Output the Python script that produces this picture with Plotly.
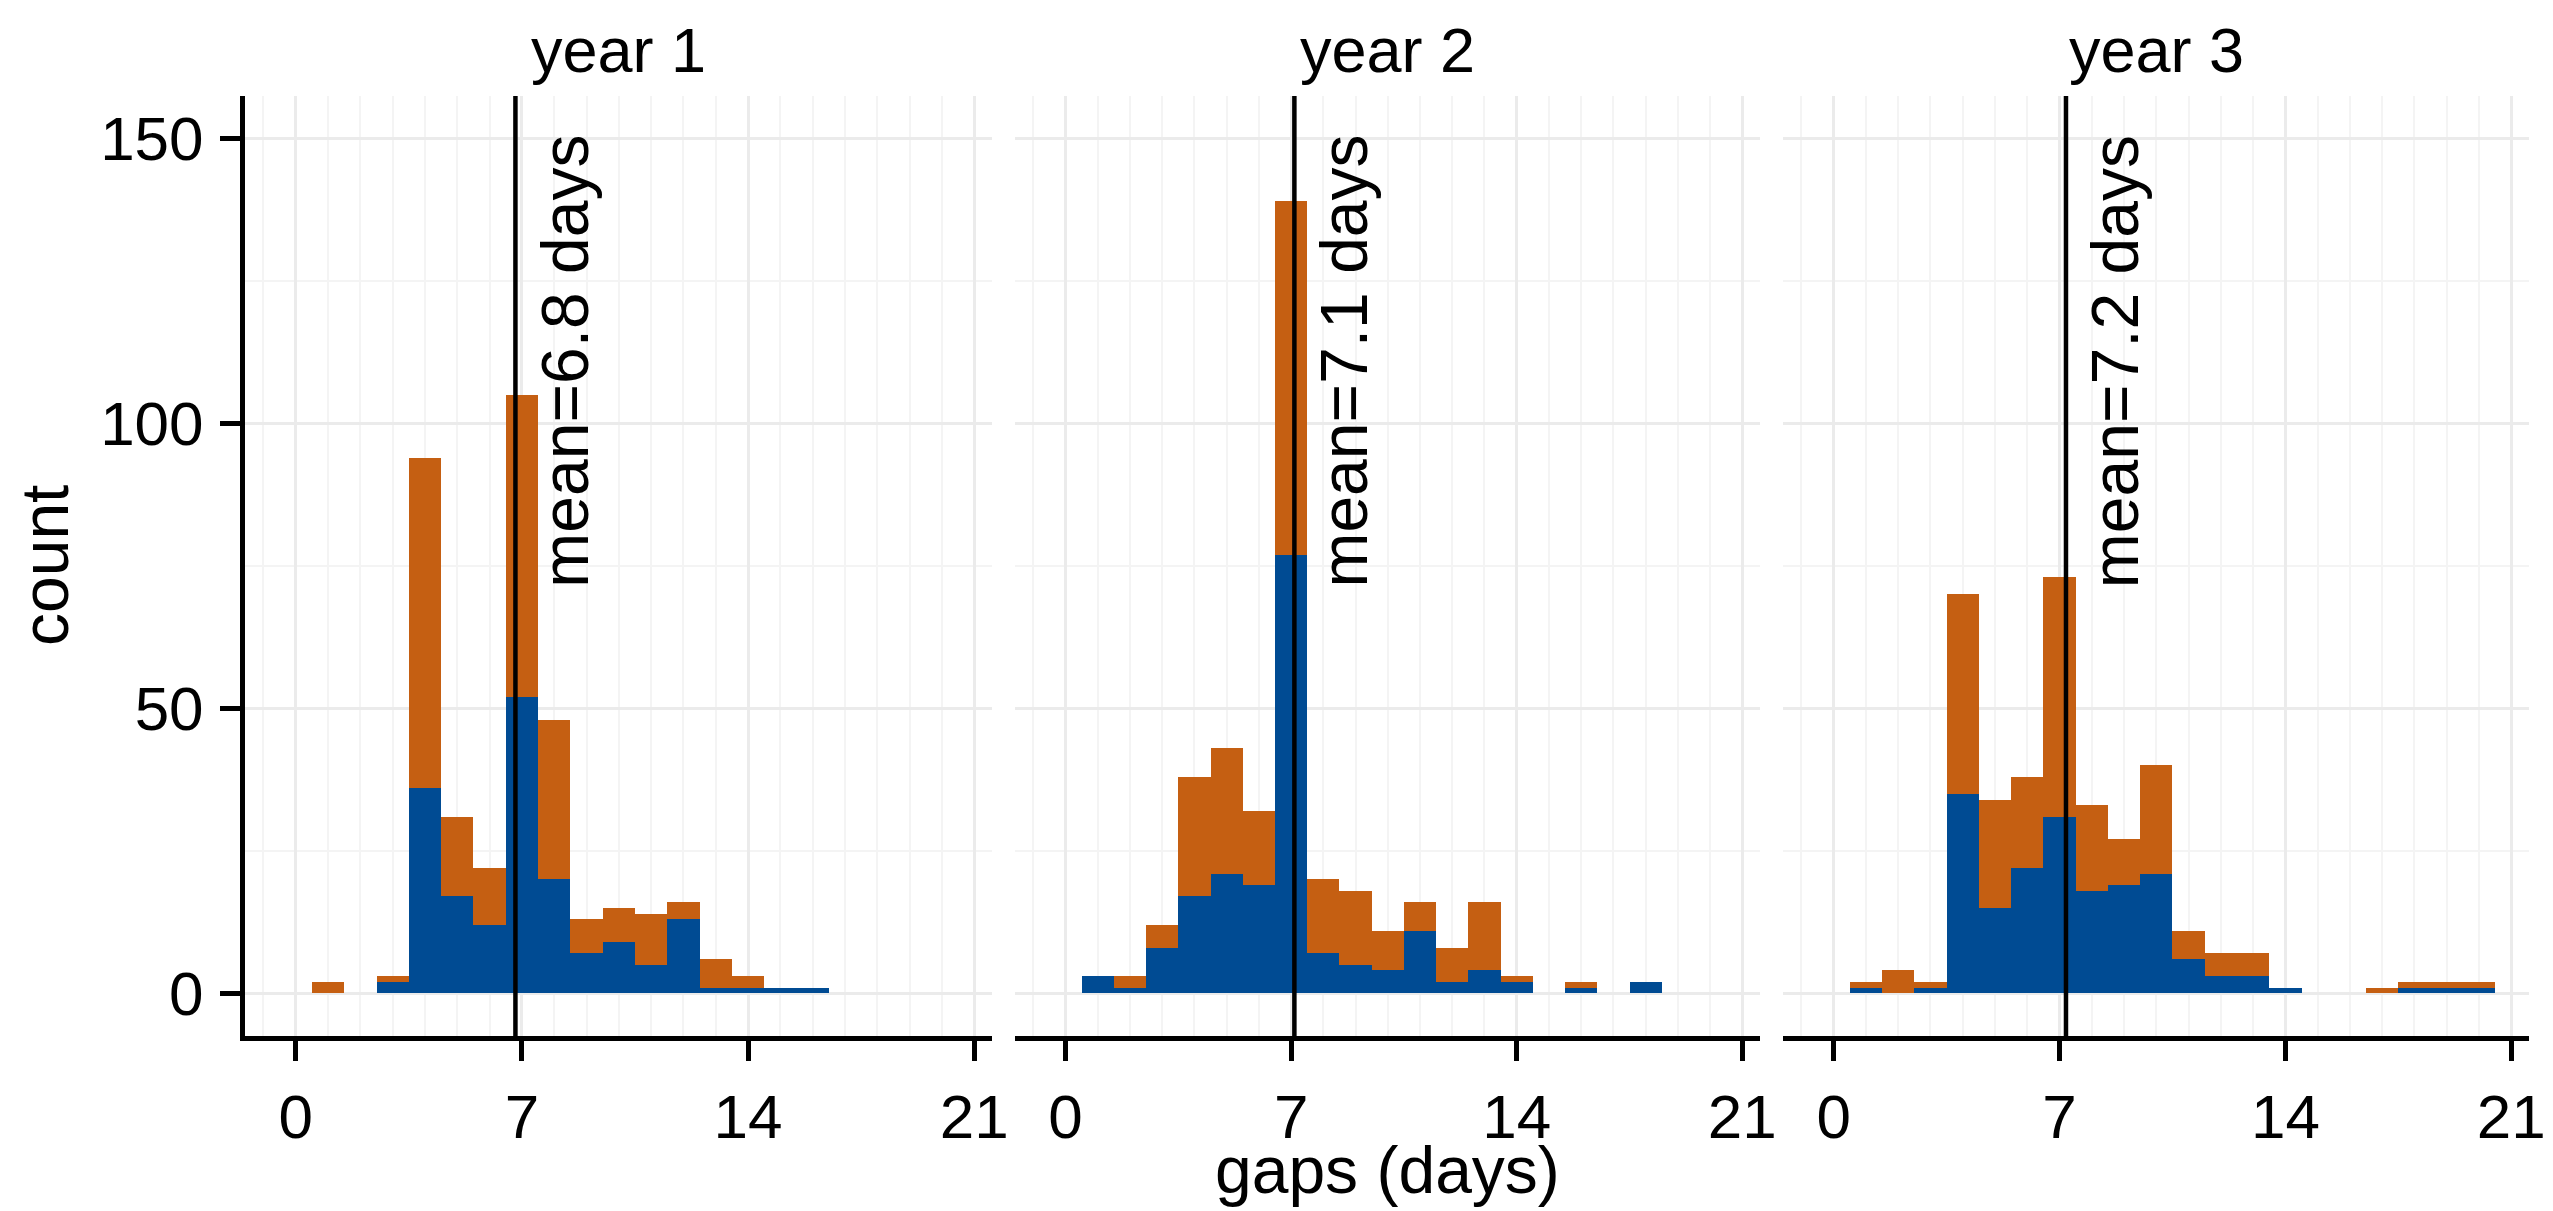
import plotly.graph_objects as go

days = list(range(1, 21))
years = ["year 1", "year 2", "year 3"]
means = [6.8, 7.1, 7.2]
mean_labels = ["mean=6.8 days", "mean=7.1 days", "mean=7.2 days"]

blue_counts = [
    [0, 0, 2, 36, 17, 12, 52, 20, 7, 9, 5, 13, 1, 1, 1, 1, 0, 0, 0, 0],
    [3, 1, 8, 17, 21, 19, 77, 7, 5, 4, 11, 2, 4, 2, 0, 1, 0, 2, 0, 0],
    [1, 0, 1, 35, 15, 22, 31, 18, 19, 21, 6, 3, 3, 1, 0, 0, 0, 1, 1, 1],
]
orange_counts = [
    [2, 0, 1, 58, 14, 10, 53, 28, 6, 6, 9, 3, 5, 2, 0, 0, 0, 0, 0, 0],
    [0, 2, 4, 21, 22, 13, 62, 13, 13, 7, 5, 6, 12, 1, 0, 1, 0, 0, 0, 0],
    [1, 4, 1, 35, 19, 16, 42, 15, 8, 19, 5, 4, 4, 0, 0, 0, 1, 1, 1, 1],
]

x_ticks = [0, 7, 14, 21]
y_ticks = [0, 50, 100, 150]

BLUE = "#004B93"
ORANGE = "#C55F12"
FONT = "Liberation Sans"

W, H = 2553, 1211
L, R, T, B = 237, 32, 88, 183
plot_w = W - L - R
panels_px = [(237, 984), (1007, 1752), (1775, 2521)]
domains = [[(a - L) / plot_w, (b - L) / plot_w] for a, b in panels_px]

fig = go.Figure()
for i in range(3):
    xa = "x" if i == 0 else f"x{i+1}"
    ya = "y" if i == 0 else f"y{i+1}"
    fig.add_trace(go.Bar(x=days, y=blue_counts[i], width=1.0, marker=dict(color=BLUE, line=dict(width=0)),
                         xaxis=xa, yaxis=ya, showlegend=False))
    fig.add_trace(go.Bar(x=days, y=orange_counts[i], width=1.0, marker=dict(color=ORANGE, line=dict(width=0)),
                         xaxis=xa, yaxis=ya, showlegend=False))

axis_common = dict(
    showgrid=True, gridcolor="#EBEBEB", gridwidth=3,
    zeroline=False, showline=True, linecolor="black", linewidth=5,
    ticks="outside", ticklen=20, tickwidth=5, tickcolor="black",
    tickfont=dict(family=FONT, size=62, color="black"),
)

layout = dict(
    width=W, height=H, barmode="stack", bargap=0,
    plot_bgcolor="white", paper_bgcolor="white",
    margin=dict(l=L, r=R, t=T, b=B),
    showlegend=False,
)
for i in range(3):
    xk = "xaxis" if i == 0 else f"xaxis{i+1}"
    yk = "yaxis" if i == 0 else f"yaxis{i+1}"
    layout[xk] = dict(axis_common, domain=domains[i], range=[-1.57, 21.55],
                      tickmode="array", tickvals=x_ticks, ticktext=[str(t) for t in x_ticks],
                      anchor="y" if i == 0 else f"y{i+1}",
                      minor=dict(dtick=1, tick0=0, showgrid=True, gridcolor="#F4F4F4", gridwidth=2, ticks=""),
                      ticklabelstandoff=3)
    yax = dict(axis_common, domain=[0, 1], range=[-7.5, 157.5],
               tickmode="array", tickvals=y_ticks,
               anchor="x" if i == 0 else f"x{i+1}",
               minor=dict(dtick=25, tick0=0, showgrid=True, gridcolor="#F4F4F4", gridwidth=2, ticks=""),
               ticklabelstandoff=4)
    if i > 0:
        yax.update(showline=False, showticklabels=False, ticks="", matches="y")
    layout[yk] = yax

fig.update_layout(**layout)

for i in range(3):
    xa = "x" if i == 0 else f"x{i+1}"
    ya = "y" if i == 0 else f"y{i+1}"
    fig.add_shape(type="line", xref=xa, yref=f"{ya} domain", x0=means[i], x1=means[i], y0=0, y1=1,
                  line=dict(color="black", width=4.5), layer="above")
    fig.add_annotation(xref=xa, yref=ya, x=means[i] + 0.3, y=151, text=mean_labels[i], textangle=-90,
                       xanchor="left", yanchor="top", showarrow=False,
                       font=dict(family=FONT, size=66, color="black"))
    d = domains[i]
    fig.add_annotation(xref="paper", yref="paper", x=(d[0] + d[1]) / 2, y=1.0, yshift=9,
                       text=years[i], showarrow=False, xanchor="center", yanchor="bottom",
                       font=dict(family=FONT, size=63, color="black"))

fig.add_annotation(xref="paper", yref="paper", x=0.5, y=0, yshift=-95, text="gaps (days)",
                   showarrow=False, xanchor="center", yanchor="top",
                   font=dict(family=FONT, size=66, color="black"))
fig.add_annotation(xref="paper", yref="paper", x=0, xshift=-200, y=0.5, text="count", textangle=-90,
                   showarrow=False, xanchor="center", yanchor="middle",
                   font=dict(family=FONT, size=66, color="black"))

fig.write_html("out.html")
